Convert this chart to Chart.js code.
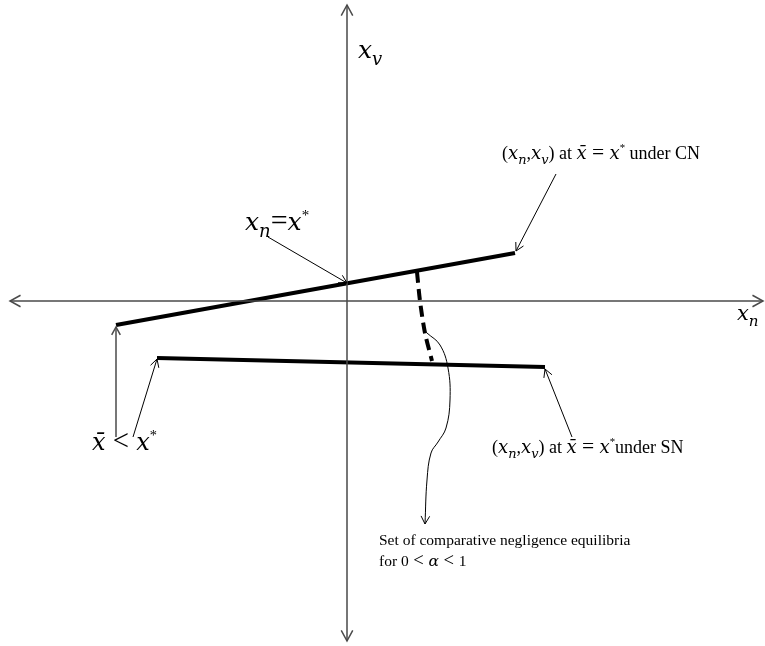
<!DOCTYPE html>
<html>
<head>
<meta charset="utf-8">
<script src="https://cdn.jsdelivr.net/npm/chart.js@4.4.1/dist/chart.umd.min.js"></script>
<style>
  body { margin: 0; background: #fff; }
  canvas { display: block; }
</style>
</head>
<body>
<canvas id="diagram" width="765" height="646"></canvas>
<script>
// coordinates: origin where the axes cross, y up
const xAxisLine = [{x: -337, y: 0}, {x: 416, y: 0}];
const yAxisLine = [{x: 0, y: 296}, {x: 0, y: -340}];
const cnLine = [{x: -231, y: -24}, {x: 168, y: 48}];
const snLine = [{x: -190, y: -57}, {x: 198, y: -66}];
const equilibria = [{x: 70, y: 29}, {x: 73, y: 0}, {x: 78, y: -32}, {x: 85, y: -60}];
const xnArrow = [{x: -79, y: 64}, {x: 0, y: 18}];
const cnArrow = [{x: 209, y: 127}, {x: 169, y: 50}];
const leftUpArrow = [{x: -231, y: -136}, {x: -231, y: -26}];
const leftDiagArrow = [{x: -214, y: -136}, {x: -190, y: -58}];
const snArrow = [{x: 225, y: -136}, {x: 198, y: -68}];
const braceCurve = [
  {x: 80, y: -32}, {x: 93, y: -44}, {x: 101, y: -67}, {x: 103, y: -99},
  {x: 99, y: -127}, {x: 91, y: -141}, {x: 84, y: -152}, {x: 80, y: -179}, {x: 78, y: -223}
];

const labels = [
  {at: {x: 11, y: 243}, size: 25, segs: [['x', 'i'], ['v', 'sub']]},
  {at: {x: 390, y: -19}, size: 21, segs: [['x', 'i'], ['n', 'sub']]},
  {at: {x: -102, y: 71}, size: 25, segs: [['x', 'i'], ['n', 'sub'], ['=', 'o'], ['x', 'i'], ['*', 'sup']]},
  {at: {x: 155, y: 142}, size: 18, segs: [['(', 'r'], ['x', 'i'], ['n', 'sub'], [',', 'r'], ['x', 'i'], ['v', 'sub'], [') at ', 'r'],
    ['x\u0304', 'i'], [' = ', 'o'], ['x', 'i'], ['*', 'sup'], [' under CN', 'r']]},
  {at: {x: 145, y: -152}, size: 18, segs: [['(', 'r'], ['x', 'i'], ['n', 'sub'], [',', 'r'], ['x', 'i'], ['v', 'sub'], [') at ', 'r'],
    ['x\u0304', 'i'], [' = ', 'o'], ['x', 'i'], ['*', 'sup'], ['under SN', 'r']]},
  {at: {x: -255, y: -149}, size: 24, segs: [['x\u0304', 'i'], [' < ', 'o'], ['x', 'i'], ['*', 'sup']]},
  {at: {x: 32, y: -244}, size: 15.5, segs: [['Set of comparative negligence equilibria', 'r']]},
  {at: {x: 32, y: -265}, size: 15.5, segs: [['for 0', 'r'], [' < ', 'o'], ['\u03b1', 'i'], [' < ', 'o'], ['1', 'r']]}
];

const grey = '#4a4a4a';

function line(data, color, width, extra) {
  return Object.assign({data: data, showLine: true, borderColor: color, borderWidth: width,
    pointRadius: 0, fill: false, tension: 0}, extra || {});
}

function head(ctx, from, to, len) {
  const a = Math.atan2(to.y - from.y, to.x - from.x);
  ctx.beginPath();
  ctx.moveTo(to.x - len * Math.cos(a - 0.5), to.y - len * Math.sin(a - 0.5));
  ctx.lineTo(to.x, to.y);
  ctx.lineTo(to.x - len * Math.cos(a + 0.5), to.y - len * Math.sin(a + 0.5));
  ctx.stroke();
}

const fonts = {
  r: s => s + 'px "Liberation Serif"',
  o: s => (s * 1.2).toFixed(1) + 'px "Liberation Serif"',
  i: s => 'italic ' + s + 'px "DejaVu Serif"'
};

const decorations = {
  id: 'decorations',
  afterDatasetsDraw(chart) {
    const ctx = chart.ctx;
    const sx = chart.scales.x, sy = chart.scales.y;
    const px = p => ({x: sx.getPixelForValue(p.x), y: sy.getPixelForValue(p.y)});
    ctx.save();
    chart.data.datasets.forEach(ds => {
      if (!ds.arrows) return;
      const pts = ds.data.map(px);
      const n = pts.length;
      ctx.strokeStyle = ds.borderColor;
      ctx.lineWidth = ds.borderWidth;
      if (ds.arrows.indexOf('end') >= 0) head(ctx, pts[n - 2], pts[n - 1], ds.headLen);
      if (ds.arrows.indexOf('start') >= 0) head(ctx, pts[1], pts[0], ds.headLen);
    });
    ctx.fillStyle = '#000';
    ctx.textBaseline = 'alphabetic';
    labels.forEach(lb => {
      const p = px(lb.at);
      let x = p.x;
      lb.segs.forEach(([t, k]) => {
        let size = lb.size, dy = 0, f = k;
        if (k === 'sub') { size = lb.size * 0.72; dy = lb.size * 0.28; f = 'i'; }
        if (k === 'sup') { size = lb.size * 0.6; dy = -lb.size * 0.42; f = 'r'; }
        ctx.font = fonts[f](size);
        ctx.fillText(t, x, p.y + dy);
        x += ctx.measureText(t).width;
      });
    });
    ctx.restore();
  }
};

new Chart(document.getElementById('diagram'), {
  type: 'scatter',
  data: {
    datasets: [
      line(xAxisLine, grey, 1.5, {arrows: ['start', 'end'], headLen: 12}),
      line(yAxisLine, grey, 1.5, {arrows: ['start', 'end'], headLen: 12}),
      line(cnLine, '#000', 4),
      line(snLine, '#000', 4),
      line(equilibria, '#000', 4, {borderDash: [11, 6], tension: 0.3}),
      line(xnArrow, '#000', 1, {arrows: ['end'], headLen: 9}),
      line(cnArrow, '#000', 1, {arrows: ['end'], headLen: 9}),
      line(leftUpArrow, grey, 1.5, {arrows: ['end'], headLen: 9}),
      line(leftDiagArrow, '#000', 1, {arrows: ['end'], headLen: 9}),
      line(snArrow, '#000', 1, {arrows: ['end'], headLen: 9}),
      line(braceCurve, '#000', 1, {arrows: ['end'], headLen: 9, tension: 0.4})
    ]
  },
  options: {
    responsive: false,
    animation: false,
    layout: {padding: 0},
    plugins: {legend: {display: false}, tooltip: {enabled: false}},
    scales: {
      x: {type: 'linear', min: -347, max: 418, display: false},
      y: {type: 'linear', min: -345, max: 301, display: false}
    }
  },
  plugins: [decorations]
});
</script>
</body>
</html>
